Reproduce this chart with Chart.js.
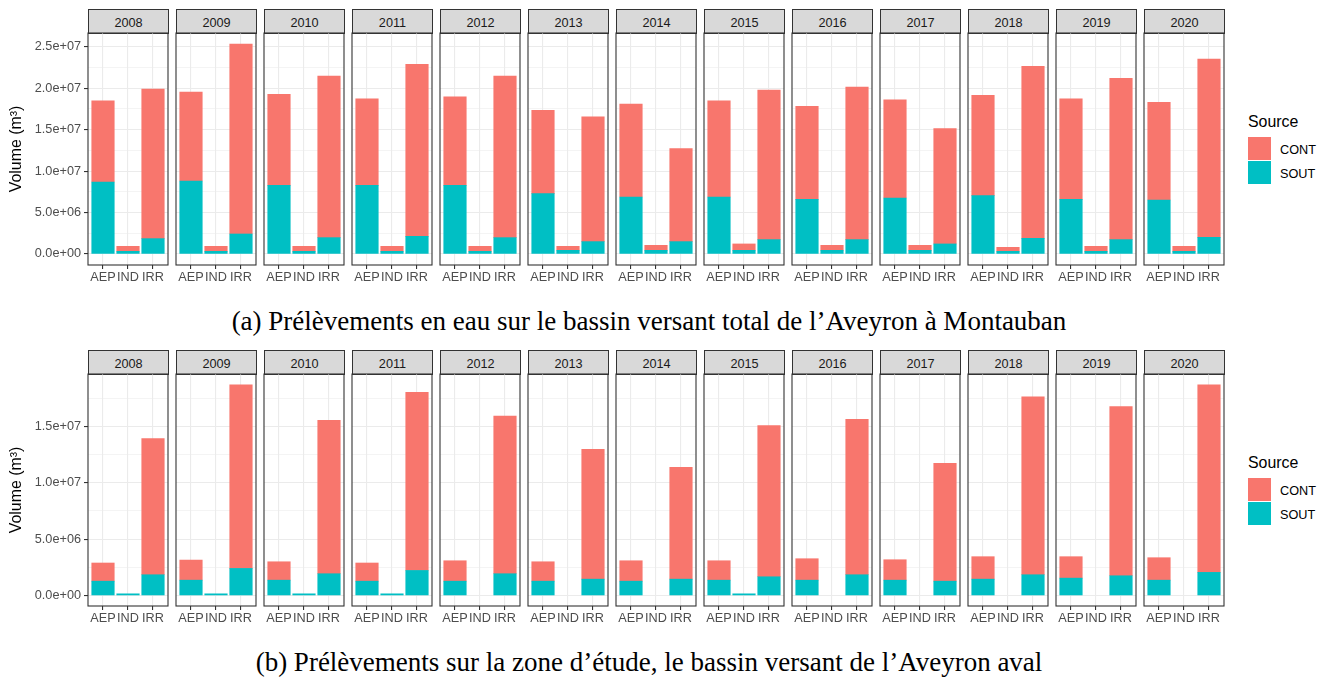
<!DOCTYPE html>
<html>
<head>
<meta charset="utf-8">
<script src="https://cdn.jsdelivr.net/npm/chart.js@4.4.1/dist/chart.umd.min.js"></script>
<style>
  body { margin: 0; background: #fff; }
  #page { position: relative; width: 1333px; height: 680px; overflow: hidden; font-family: 'Liberation Sans', Arial, sans-serif; }
  canvas { position: absolute; }
  .strip { position: absolute; box-sizing: border-box; width: 81px; height: 25px; background: #d9d9d9; border: 1px solid #333; font-size: 12.7px; color: #1a1a1a; text-align: center; padding-top: 4px; line-height: 19px; }
  .caption { position: absolute; left: 0; width: 1298px; height: 34px; line-height: 34px; text-align: center; font-family: 'Liberation Serif', 'Times New Roman', serif; font-size: 27px; color: #000; white-space: nowrap; }
  .legTitle { position: absolute; left: 1248px; height: 20px; line-height: 20px; font-size: 15.9px; color: #000; }
  .key { position: absolute; left: 1248px; width: 23px; height: 23px; }
  .keyText { position: absolute; left: 1280px; height: 16px; line-height: 16px; font-size: 12.7px; color: #000; }
</style>
</head>
<body>
<div id="page"></div>
<script>
// facets and categories
const years = ['2008', '2009', '2010', '2011', '2012', '2013', '2014', '2015', '2016', '2017', '2018', '2019', '2020'];
const uses = ['AEP', 'IND', 'IRR'];
const M = 1e6; // values below are in millions of m3

// (a) bassin versant total de l'Aveyron a Montauban
const aSoutAEP = [8.68, 8.80, 8.28, 8.28, 8.28, 7.27, 6.87, 6.87, 6.59, 6.75, 7.03, 6.59, 6.51];
const aSoutIND = [0.32, 0.32, 0.32, 0.32, 0.32, 0.44, 0.44, 0.44, 0.44, 0.44, 0.32, 0.32, 0.32];
const aSoutIRR = [1.85, 2.41, 1.97, 2.13, 1.97, 1.49, 1.49, 1.73, 1.73, 1.21, 1.89, 1.73, 2.01];
const aContAEP = [9.80, 10.73, 10.96, 10.44, 10.68, 10.05, 11.21, 11.61, 11.21, 11.85, 12.09, 12.13, 11.77];
const aContIND = [0.60, 0.60, 0.60, 0.60, 0.60, 0.48, 0.60, 0.77, 0.60, 0.60, 0.48, 0.60, 0.60];
const aContIRR = [18.04, 22.90, 19.48, 20.73, 19.48, 15.06, 11.21, 18.04, 18.40, 13.90, 20.73, 19.44, 21.49];

// (b) zone d'etude, Aveyron aval
const bSoutAEP = [1.27, 1.36, 1.36, 1.27, 1.27, 1.27, 1.27, 1.36, 1.36, 1.36, 1.45, 1.54, 1.36];
const bSoutIND = [0.15, 0.15, 0.15, 0.15, 0, 0, 0, 0.15, 0, 0, 0, 0, 0];
const bSoutIRR = [1.84, 2.40, 1.93, 2.22, 1.93, 1.45, 1.45, 1.66, 1.84, 1.27, 1.84, 1.75, 2.05];
const bContAEP = [1.61, 1.78, 1.63, 1.61, 1.81, 1.72, 1.81, 1.72, 1.90, 1.81, 1.99, 1.90, 1.99];
const bContIND = [0, 0, 0, 0, 0, 0, 0, 0, 0, 0, 0, 0, 0];
const bContIRR = [12.06, 16.28, 13.60, 15.78, 13.96, 11.51, 9.90, 13.40, 13.78, 10.44, 15.77, 15.00, 16.63];

// y tick labels
const aTicks = [0, 5e6, 1e7, 1.5e7, 2e7, 2.5e7];
const bTicks = [0, 5e6, 1e7, 1.5e7];

const CONT_COL = '#F8766D';
const SOUT_COL = '#00BFC4';

const page = document.getElementById('page');
const X0 = 88, STEP = 88, FW = 80, PH = 232;

function fmt(v) {
  return v.toExponential(1).replace(/e([+-])(\d)$/, 'e$10$2');
}

const frame = {
  id: 'frame',
  afterDraw(chart) {
    const { ctx, chartArea: a } = chart;
    ctx.save();
    ctx.strokeStyle = '#333333';
    ctx.lineWidth = 1.1;
    ctx.strokeRect(a.left, a.top, a.right - a.left, a.bottom - a.top);
    ctx.restore();
  }
};

function addDiv(cls, text, left, top) {
  const d = document.createElement('div');
  d.className = cls;
  d.textContent = text;
  if (left !== null) d.style.left = left + 'px';
  d.style.top = top + 'px';
  page.appendChild(d);
  return d;
}

function facet(p, i) {
  const first = i === 0;
  const padL = first ? 88 : 2, padT = 12, axisH = 24;
  const W = padL + FW + 2, H = padT + PH + axisH;
  const cv = document.createElement('canvas');
  cv.width = W; cv.height = H;
  cv.style.left = (X0 + i * STEP - padL) + 'px';
  cv.style.top = (p.plotTop - padT) + 'px';
  cv.style.width = W + 'px'; cv.style.height = H + 'px';
  page.appendChild(cv);

  const minors = p.ticks.map(v => v + 2.5e6).filter(v => v < p.max);
  const yTicks = p.ticks.concat(minors).sort((a, b) => a - b);
  const isMajor = v => p.ticks.includes(v);
  const pts = arr => uses.map((u, k) => ({ x: k + 1, y: arr[k][i] ? arr[k][i] * M : null }));

  new Chart(cv, {
    type: 'bar',
    data: {
      datasets: [
        { label: 'SOUT', backgroundColor: SOUT_COL, data: pts(p.sout) },
        { label: 'CONT', backgroundColor: CONT_COL, data: pts(p.cont) }
      ]
    },
    options: {
      responsive: false,
      animation: false,
      layout: { padding: { top: padT, right: 2, left: 0, bottom: 0 } },
      plugins: { legend: { display: false }, tooltip: { enabled: false } },
      datasets: { bar: { barThickness: 22.5, borderWidth: 0 } },
      scales: {
        x: {
          type: 'linear', stacked: true, bounds: 'data', min: 0.4, max: 3.6, offset: false,
          afterBuildTicks: s => { s.ticks = uses.map((u, k) => ({ value: k + 1 })); },
          afterFit: s => { s.height = axisH; },
          ticks: { autoSkip: false, maxRotation: 0, minRotation: 0, padding: 1, color: '#4D4D4D',
                   font: { size: 12.7 }, callback: v => uses[v - 1] },
          grid: { offset: false, color: '#EBEBEB', lineWidth: 1.1, tickLength: 4, tickColor: '#333333', tickWidth: 1.1 },
          border: { display: false }
        },
        y: {
          stacked: true, bounds: 'data', min: p.min, max: p.max,
          afterBuildTicks: s => { s.ticks = yTicks.map(v => ({ value: v })); },
          afterFit: s => { s.width = padL; },
          ticks: { display: first, padding: 3, color: '#4D4D4D', font: { size: 12.7 },
                   callback: v => isMajor(v) ? fmt(v) : '' },
          grid: {
            color: '#EBEBEB',
            lineWidth: c => isMajor(c.tick.value) ? 1.1 : 0.55,
            drawTicks: first, tickLength: 4, tickWidth: 1.1,
            tickColor: c => isMajor(c.tick.value) ? '#333333' : 'rgba(0,0,0,0)'
          },
          border: { display: false },
          title: { display: first, text: 'Volume (m³)', color: '#000', font: { size: 15.9 }, padding: { top: 7, bottom: 0 } }
        }
      }
    },
    plugins: [frame]
  });
}

const panels = [
  { sout: [aSoutAEP, aSoutIND, aSoutIRR], cont: [aContAEP, aContIND, aContIRR], ticks: aTicks,
    min: -1.33e6, max: 26.65e6, stripTop: 9, plotTop: 33, legTop: 112, caption: '(a) Prélèvements en eau sur le bassin versant total de l’Aveyron à Montauban', capY: 321 },
  { sout: [bSoutAEP, bSoutIND, bSoutIRR], cont: [bContAEP, bContIND, bContIRR], ticks: bTicks,
    min: -0.93e6, max: 19.63e6, stripTop: 350, plotTop: 374, legTop: 453, caption: '(b) Prélèvements sur la zone d’étude, le bassin versant de l’Aveyron aval', capY: 662 }
];

Chart.defaults.font.family = "'Liberation Sans', Arial, sans-serif";

panels.forEach(p => {
  years.forEach((y, i) => addDiv('strip', y, X0 + i * STEP, p.stripTop));
  years.forEach((y, i) => facet(p, i));
  addDiv('legTitle', 'Source', null, p.legTop);
  const k1 = addDiv('key', '', null, p.legTop + 25); k1.style.background = CONT_COL;
  const k2 = addDiv('key', '', null, p.legTop + 49); k2.style.background = SOUT_COL;
  addDiv('keyText', 'CONT', null, p.legTop + 30);
  addDiv('keyText', 'SOUT', null, p.legTop + 54);
  addDiv('caption', p.caption, null, p.capY - 17);
});
</script>
</body>
</html>
